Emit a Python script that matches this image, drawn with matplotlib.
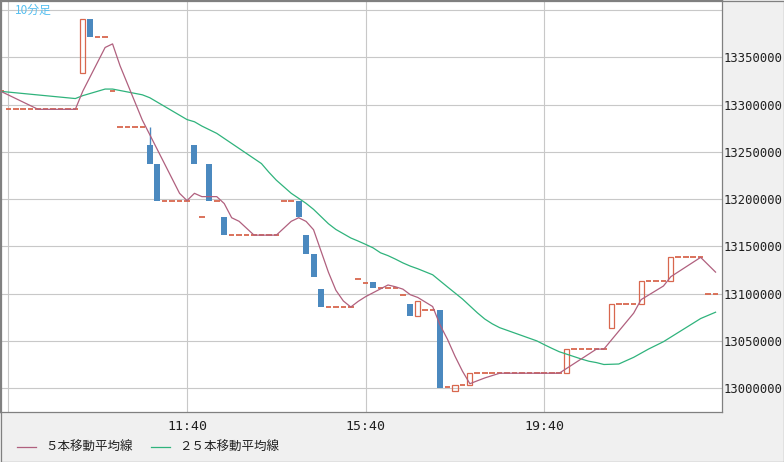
import numpy as np
import pandas as pd
import matplotlib
matplotlib.use("Agg")
import matplotlib.pyplot as plt
from matplotlib.lines import Line2D
from matplotlib.patches import Rectangle

### 10-minute bars (prices in thousand yen), bar 0 = 7:40 ###
bar_start = -1
opens_k = [
    13314, 13295, 13295, 13295, 13295, 13295, 13295, 13295, 13295, 13295,
    13295, 13333, 13391, 13372, 13372, 13314, 13276, 13276, 13276, 13276,
    13257, 13237, 13198.5, 13198.5, 13198.5, 13198.5, 13257, 13181, 13237, 13198.5,
    13181, 13162, 13162, 13162, 13162, 13162, 13162, 13162, 13198.5, 13198.5,
    13198.5, 13162, 13142.5, 13105, 13086, 13086, 13086, 13086, 13116, 13111,
    13112, 13106.5, 13106.5, 13106.5, 13098.5, 13089, 13077, 13082.5, 13082.5, 13082.5,
    13001, 12997, 13003.5, 13003.5, 13016, 13016, 13016, 13016, 13016, 13016,
    13016, 13016, 13016, 13016, 13016, 13016, 13016, 13041.5, 13041.5, 13041.5,
    13041.5, 13041.5, 13064, 13089, 13089, 13089, 13089, 13113, 13113, 13113,
    13113, 13138.5, 13138.5, 13138.5, 13138.5, 13099.5, 13099.5,
]
closes_k = [
    13314, 13295, 13295, 13295, 13295, 13295, 13295, 13295, 13295, 13295,
    13295, 13391, 13372, 13372, 13372, 13314, 13276, 13276, 13276, 13276,
    13237, 13198.5, 13198.5, 13198.5, 13198.5, 13198.5, 13237, 13181, 13198.5, 13198.5,
    13162, 13162, 13162, 13162, 13162, 13162, 13162, 13162, 13198.5, 13198.5,
    13181, 13142.5, 13118, 13086, 13086, 13086, 13086, 13086, 13116, 13111,
    13106.5, 13106.5, 13106.5, 13106.5, 13098.5, 13077, 13092, 13082.5, 13082.5, 13000.5,
    13001, 13003.5, 13003.5, 13016, 13016, 13016, 13016, 13016, 13016, 13016,
    13016, 13016, 13016, 13016, 13016, 13016, 13041.5, 13041.5, 13041.5, 13041.5,
    13041.5, 13041.5, 13089, 13089, 13089, 13089, 13113, 13113, 13113, 13113,
    13138.5, 13138.5, 13138.5, 13138.5, 13138.5, 13099.5, 13099.5,
]
# upper shadow that sticks out of the body
upper_wick_k = {19: 13276}
# closes before the visible window (needed for the moving averages)
earlier_closes_k = [13314] * 24

tick_pos = [0, 24, 48, 72]
tick_labels = ["", "11:40", "15:40", "19:40"]
price_ticks = np.arange(13000000, 13400001, 50000)

up_color = "#d8674e"
down_color = "#4b89bf"
ma5_color = "#b0607e"
ma25_color = "#2fb37c"

opens = np.array(opens_k) * 1000
closes = np.array(closes_k) * 1000
x = np.arange(bar_start, bar_start + len(closes))

all_close = pd.Series(np.concatenate([np.array(earlier_closes_k) * 1000, closes]))
ma5 = all_close.rolling(5).mean().values[-len(closes):]
ma25 = all_close.rolling(25).mean().values[-len(closes):]

W, H = 784, 462
fig = plt.figure(figsize=(W / 100, H / 100), dpi=100, facecolor="#f0f0f0")
ax = fig.add_axes([0, 50 / H, 721.5 / W, 412 / H])
ax.set_facecolor("white")

## candles
up = closes > opens
down = closes < opens
flat = closes == opens
ax.bar(x[up], closes[up] - opens[up], bottom=opens[up], width=0.68,
       facecolor="none", edgecolor=up_color, linewidth=0.9, zorder=3)
ax.bar(x[down], opens[down] - closes[down], bottom=closes[down], width=0.8,
       color=down_color, linewidth=0, zorder=3)
ax.hlines(closes[flat], x[flat] - 0.38, x[flat] + 0.38, color=up_color,
          linewidth=1.3, zorder=3)
for i, hi in upper_wick_k.items():
    k = i - bar_start
    col = down_color if closes[k] < opens[k] else up_color
    ax.vlines(i, max(opens[k], closes[k]), hi * 1000, color=col, linewidth=1.0, zorder=3)

## moving averages
ax.plot(x, ma25, color=ma25_color, linewidth=0.9, zorder=4)
ax.plot(x, ma5, color=ma5_color, linewidth=0.9, zorder=4)

ax.set_xlim(-1.12, 95.8)
ax.set_ylim(12975000, 13410600)

ax.set_xticks(tick_pos)
ax.set_xticklabels(tick_labels)
ax.set_yticks(price_ticks)
ax.set_yticklabels([str(v) if v < 13400000 else "" for v in price_ticks])
ax.yaxis.tick_right()
ax.tick_params(axis="x", length=0, pad=5.5, labelsize=9.5, colors="#202020")
ax.tick_params(axis="y", length=0, pad=1.2, labelsize=8.8, colors="#202020")
for lab in ax.get_xticklabels() + ax.get_yticklabels():
    lab.set_fontfamily("DejaVu Sans Mono")
ax.grid(True, color="#c8c8c8", linewidth=0.8, zorder=0)
ax.set_axisbelow(True)
for s in ax.spines.values():
    s.set_color("#808080")
    s.set_linewidth(0.9)

ax.text(15 / 721.5, 1 - 10 / 412, "10分足", transform=ax.transAxes,
        fontsize=8.5, color="#55bff0", va="center", ha="left",
        family=["Noto Sans CJK JP", "DejaVu Sans"])

fig.legend(
    handles=[
        Line2D([], [], color=ma5_color, linewidth=0.9, label="５本移動平均線"),
        Line2D([], [], color=ma25_color, linewidth=0.9, label="２５本移動平均線"),
    ],
    loc="center left",
    bbox_to_anchor=(17 / W, 14.5 / H),
    ncol=2,
    frameon=False,
    borderpad=0,
    borderaxespad=0,
    handlelength=1.52,
    handletextpad=0.72,
    columnspacing=1.5,
    prop={"family": ["Noto Sans CJK JP", "DejaVu Sans"], "size": 9},
    labelcolor="#202020",
)

fig.patches.append(Rectangle((0.5 / W, 0.5 / H), 1 - 1 / W, 1 - 1 / H,
                             transform=fig.transFigure, fill=False,
                             edgecolor="#808080", linewidth=0.9))

plt.savefig("out.png", dpi=100, facecolor=fig.get_facecolor())
